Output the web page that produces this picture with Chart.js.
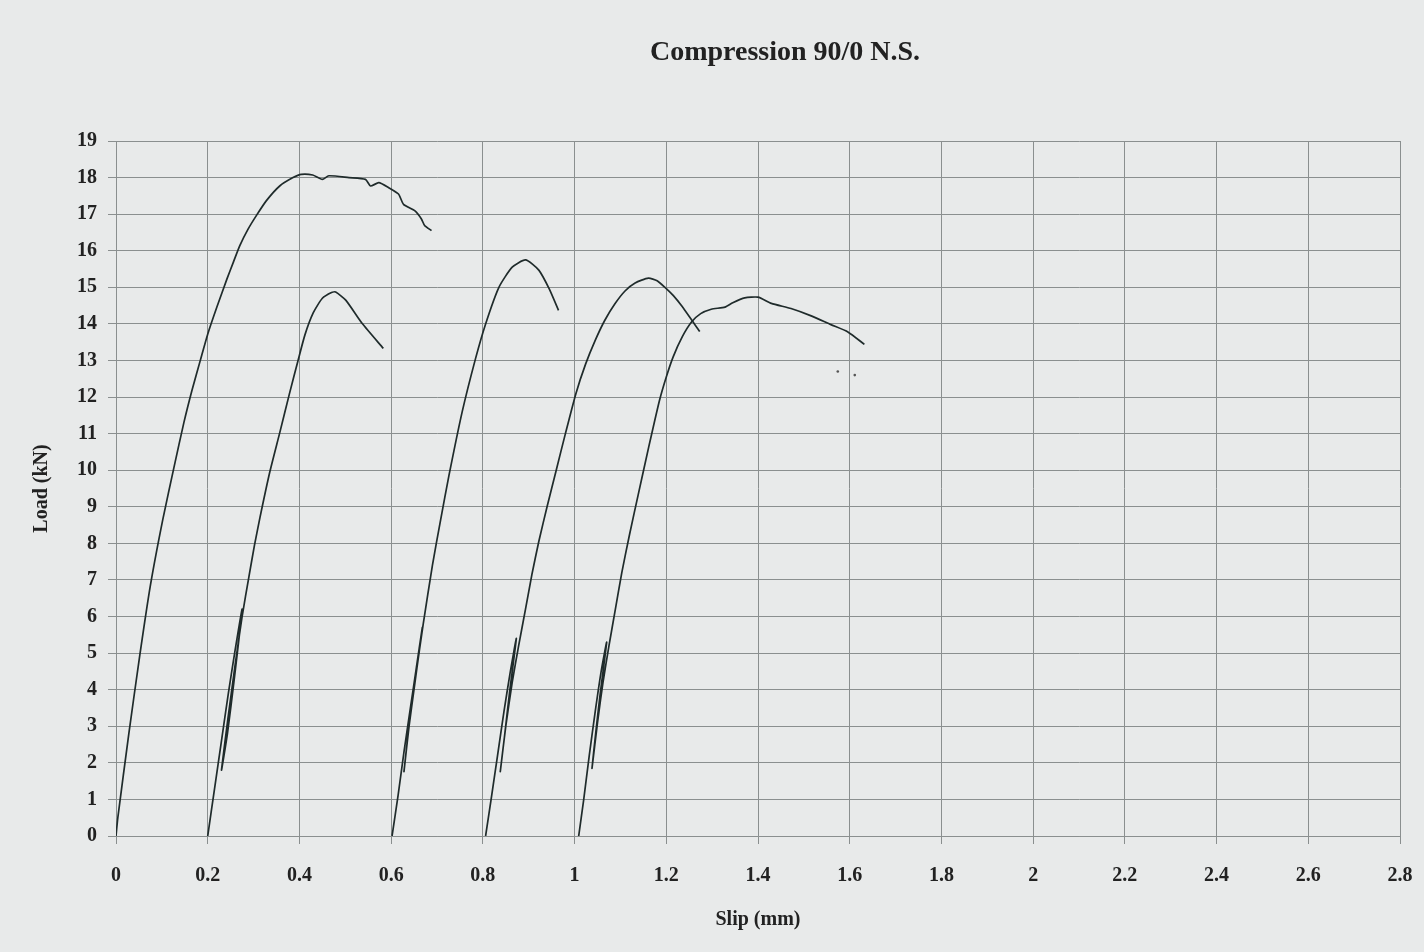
<!DOCTYPE html>
<html>
<head>
<meta charset="utf-8">
<title>Compression 90/0 N.S.</title>
<script src="https://cdn.jsdelivr.net/npm/chart.js@4.4.1/dist/chart.umd.min.js"></script>
<style>
    html, body { margin: 0; padding: 0; background: #e8eaea; }
    #wrap { width: 1424px; height: 952px; position: relative; }
</style>
</head>
<body>
<div id="wrap"><canvas id="slipChart"></canvas></div>
<script>
// Slip (mm) / Load (kN)
const slip1 = [0, 0.004, 0.028, 0.052, 0.075, 0.102, 0.127, 0.148, 0.166, 0.184, 0.2, 0.22, 0.242, 0.256, 0.27, 0.288, 0.306, 0.328, 0.357, 0.386, 0.404, 0.429, 0.45, 0.464, 0.508, 0.544, 0.555, 0.573, 0.594, 0.616, 0.627, 0.652, 0.666, 0.673, 0.688];
const load1 = [0, 0.5, 2.8, 4.95, 6.85, 8.65, 10.11, 11.3, 12.2, 13.01, 13.72, 14.46, 15.23, 15.69, 16.14, 16.59, 16.96, 17.37, 17.77, 18.0, 18.09, 18.07, 17.95, 18.05, 18.0, 17.95, 17.77, 17.86, 17.73, 17.55, 17.27, 17.09, 16.87, 16.69, 16.55];

const slip2 = [0.2, 0.215, 0.23, 0.245, 0.26, 0.275, 0.258, 0.243, 0.23, 0.244, 0.26, 0.275, 0.29, 0.302, 0.314, 0.335, 0.357, 0.378, 0.397, 0.412, 0.43, 0.45, 0.47, 0.479, 0.501, 0.537, 0.583];
const load2 = [0, 1.3, 2.6, 3.9, 5.1, 6.2, 4.3, 2.8, 1.8, 3.2, 4.7, 6.0, 7.1, 7.95, 8.71, 9.93, 11.02, 12.08, 13.0, 13.7, 14.3, 14.7, 14.86, 14.87, 14.65, 14.01, 13.33];

const slip3 = [0.602, 0.615, 0.628, 0.642, 0.655, 0.668, 0.652, 0.638, 0.628, 0.64, 0.654, 0.67, 0.69, 0.708, 0.726, 0.755, 0.784, 0.806, 0.835, 0.864, 0.893, 0.922, 0.945, 0.965];
const load3 = [0, 1.1, 2.3, 3.5, 4.6, 5.7, 4.2, 2.9, 1.76, 3.1, 4.4, 5.8, 7.4, 8.65, 9.85, 11.6, 13.05, 14.0, 15.0, 15.55, 15.75, 15.47, 14.95, 14.37];

const slip4 = [0.806, 0.818, 0.832, 0.846, 0.86, 0.873, 0.858, 0.847, 0.838, 0.85, 0.864, 0.878, 0.893, 0.907, 0.922, 0.94, 0.96, 0.98, 1.003, 1.024, 1.045, 1.066, 1.088, 1.11, 1.132, 1.161, 1.18, 1.197, 1.215, 1.233, 1.273];
const load4 = [0, 1.0, 2.2, 3.4, 4.5, 5.4, 3.9, 2.7, 1.76, 3.0, 4.2, 5.2, 6.2, 7.15, 8.05, 9.0, 10.0, 11.0, 12.1, 12.9, 13.55, 14.1, 14.55, 14.9, 15.12, 15.25, 15.18, 15.0, 14.78, 14.5, 13.79];

const slip5 = [1.009, 1.02, 1.032, 1.045, 1.058, 1.07, 1.056, 1.046, 1.038, 1.05, 1.062, 1.075, 1.089, 1.103, 1.12, 1.14, 1.162, 1.185, 1.2, 1.215, 1.235, 1.255, 1.275, 1.298, 1.328, 1.345, 1.371, 1.4, 1.429, 1.472, 1.516, 1.559, 1.596, 1.632];
const load5 = [0, 1.0, 2.2, 3.4, 4.5, 5.3, 3.9, 2.8, 1.85, 3.1, 4.2, 5.2, 6.2, 7.2, 8.25, 9.4, 10.65, 11.9, 12.55, 13.1, 13.65, 14.05, 14.28, 14.4, 14.46, 14.58, 14.71, 14.73, 14.56, 14.42, 14.22, 13.98, 13.78, 13.44];

// two stray specks printed below the last curve
const speckSlip = [1.574, 1.611];
const speckLoad = [12.7, 12.6];

const slipTicks = ['0', '0.2', '0.4', '0.6', '0.8', '1', '1.2', '1.4', '1.6', '1.8', '2', '2.2', '2.4', '2.6', '2.8'];

const inkColor = '#1f2b2b';
const gridColor = '#8a8f8f';
const serif = "'Liberation Serif', 'Times New Roman', serif";

function toPoints(xs, ys) {
    return xs.map((x, i) => ({ x: x, y: ys[i] }));
}

function curve(xs, ys) {
    return {
        data: toPoints(xs, ys),
        showLine: true,
        borderColor: inkColor,
        borderWidth: 1.7,
        pointRadius: 0,
        tension: 0.2,
        fill: false
    };
}

// Title is drawn by hand so it can sit off-centre like the print
const pageTitle = {
    id: 'pageTitle',
    afterDraw(chart) {
        const ctx = chart.ctx;
        ctx.save();
        ctx.fillStyle = '#222';
        ctx.font = "bold 28px " + serif;
        ctx.textAlign = 'center';
        ctx.textBaseline = 'middle';
        ctx.fillText('Compression 90/0 N.S.', 785, 53);
        ctx.restore();
    }
};

const ctx = document.getElementById('slipChart').getContext('2d');
const slipChart = new Chart(ctx, {
    type: 'scatter',
    data: {
        datasets: [
            curve(slip1, load1),
            curve(slip2, load2),
            curve(slip3, load3),
            curve(slip4, load4),
            curve(slip5, load5),
            {
                data: toPoints(speckSlip, speckLoad),
                pointRadius: 1.3,
                pointBackgroundColor: '#555',
                pointBorderWidth: 0,
                showLine: false
            }
        ]
    },
    options: {
        responsive: true,
        maintainAspectRatio: false,
        animation: false,
        layout: {
            padding: { top: 141, left: 0, right: 24, bottom: 0 }
        },
        plugins: {
            legend: { display: false },
            tooltip: { enabled: false },
            title: { display: false }
        },
        scales: {
            x: {
                type: 'linear',
                min: 0,
                max: 2.8,
                afterFit: scale => {
                    scale.height = 116;
                    // keep the plot edge where the print has it
                    scale.paddingLeft = 14;
                    scale.paddingRight = 14;
                },
                afterBuildTicks: scale => {
                    scale.ticks = slipTicks.map(t => ({ value: parseFloat(t) }));
                },
                ticks: {
                    callback: (value, i) => slipTicks[i],
                    color: '#222',
                    padding: 20,
                    maxRotation: 0,
                    font: { family: serif, size: 20, weight: 'bold' }
                },
                grid: {
                    color: gridColor,
                    lineWidth: 1,
                    tickLength: 8
                },
                border: { color: gridColor, width: 1 },
                title: {
                    display: true,
                    text: 'Slip (mm)',
                    color: '#222',
                    padding: { top: 0, bottom: 20 },
                    font: { family: serif, size: 20, weight: 'bold' }
                }
            },
            y: {
                type: 'linear',
                min: 0,
                max: 19,
                afterFit: scale => { scale.width = 116; },
                ticks: {
                    stepSize: 1,
                    color: '#222',
                    padding: 11,
                    font: { family: serif, size: 20, weight: 'bold' }
                },
                grid: {
                    color: gridColor,
                    lineWidth: 1,
                    tickLength: 8
                },
                border: { color: gridColor, width: 1 },
                title: {
                    display: true,
                    text: 'Load (kN)',
                    color: '#222',
                    padding: { top: 30, bottom: 0 },
                    font: { family: serif, size: 20, weight: 'bold' }
                }
            }
        }
    },
    plugins: [pageTitle]
});
</script>
</body>
</html>
